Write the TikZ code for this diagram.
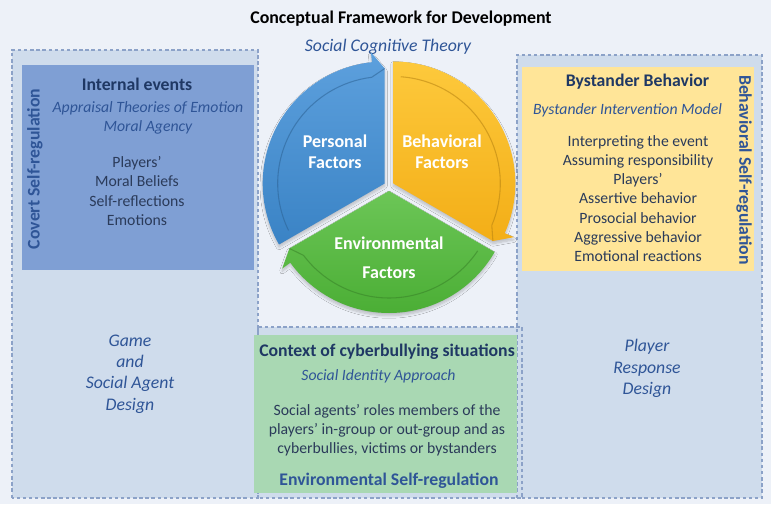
\documentclass[tikz,border=0pt]{standalone}
\usepackage{fontspec}
\setmainfont{Carlito}
\usepackage{tikz}
\usetikzlibrary{calc,positioning,shadows.blur}
\definecolor{bgpage}{HTML}{EDF1F8}
\definecolor{bgzone}{HTML}{CFDCEC}
\definecolor{zoneln}{HTML}{8CA2C8}
\definecolor{boxblue}{HTML}{7F9FD4}
\definecolor{boxyellow}{HTML}{FFE598}
\definecolor{boxgreen}{HTML}{A9D8B3}
\definecolor{headnavy}{HTML}{1F3864}
\definecolor{theoryblue}{HTML}{2F5597}
\definecolor{bodynavy}{HTML}{2B3B5A}
\definecolor{segblueA}{HTML}{5DA0DD}
\definecolor{segblueB}{HTML}{3A83C5}
\definecolor{segyelA}{HTML}{FDC93C}
\definecolor{segyelB}{HTML}{F3AE17}
\definecolor{seggrnA}{HTML}{6CC657}
\definecolor{seggrnB}{HTML}{4BAE35}
\tikzset{
  % shaded dashed zones behind the boxes
  zonefill/.style={fill=bgzone},
  zoneedge/.style={draw=zoneln, line width=0.9pt, dash pattern=on 2.6pt off 2pt},
  % texts
  titletxt/.style={font=\fontsize{13.4}{16}\selectfont\bfseries, text=black, inner sep=0pt},
  headtxt/.style={font=\fontsize{13.3}{16}\selectfont\bfseries, text=headnavy, inner sep=0pt},
  theorytxt/.style={font=\fontsize{11.8}{14.4}\selectfont\itshape, text=theoryblue, align=center, inner sep=0pt},
  bodytxt/.style={font=\fontsize{11.8}{14.4}\selectfont, text=bodynavy, align=center, inner sep=0pt},
  designtxt/.style={font=\fontsize{13.3}{16}\selectfont\itshape, text=theoryblue, align=center, inner sep=0pt},
  regtxt/.style={font=\fontsize{13.3}{16}\selectfont\bfseries, text=theoryblue, inner sep=0pt},
  segtxt/.style={font=\fontsize{13.5}{15.8}\selectfont\bfseries, text=white, align=center, inner sep=0pt},
  % cycle segments
  segment/.style={blur shadow={shadow blur steps=8, shadow opacity=22,
                 shadow xshift=0pt, shadow yshift=-2pt}},
  rimln/.style={line width=0.8pt, opacity=0.55},
}
% one segment of the cycle: centre, start angle, end angle, top colour, bottom colour
\newcommand{\cyclearrow}[5]{%
  \pgfmathsetmacro{\barbang}{#3+6}%
  \pgfmathsetmacro{\rimang}{#2-4}%
  \pgfmathsetmacro{\rimend}{#3+7}%
  \path[segment, top color=#4, bottom color=#5]
    (#1) -- ($(#1)+(#2:122)$) arc[start angle=#2, end angle=\barbang, radius=122]
    -- ($(#1)+(\barbang:132)$) -- ($(#1)+(#3:115)$) -- cycle;
  \draw[rimln, draw=#5!75!black] ($(#1)+(\rimang:107)$)
    arc[start angle=\rimang, end angle=\rimend, radius=107] -- ($(#1)+(#3:115)$);
}

\begin{document}
\begin{tikzpicture}[x=0.75pt, y=0.75pt]
  % page
  \fill[bgpage] (0,0) rectangle (771,504);
  \useasboundingbox (0,0) rectangle (771,504);
  % zones
  \fill[zonefill] (12,6) rectangle (258,454);
  \fill[zonefill] (517,6) rectangle (762,449);
  \fill[zonefill] (258,6) rectangle (522,177);
  \draw[zoneedge] (12,6) rectangle (258,454);
  \draw[zoneedge] (517,6) rectangle (762,449);
  \draw[zoneedge] (258,6) rectangle (522,177);
  % boxes
  \fill[boxblue] (22,234) rectangle (254,439);
  \fill[boxyellow] (522,233) rectangle (754,437);
  \fill[boxgreen] (254,11) rectangle (517,169);

  % title
  \node[titletxt] (title) at (401,485) {Conceptual Framework for Development};
  \node[designtxt] (sct) at (388,457) {Social Cognitive Theory};

  % cycle
  \coordinate (cBlue) at (384.7,320.5);
  \coordinate (cYel) at (393.3,320.5);
  \coordinate (cGrn) at (389,313);
  \cyclearrow{cBlue}{210}{90}{segblueA}{segblueB}
  \cyclearrow{cYel}{90}{-30}{segyelA}{segyelB}
  \cyclearrow{cGrn}{-30}{-150}{seggrnA}{seggrnB}
  \node[segtxt] (personal) at (335,352.5) {Personal\\Factors};
  \node[segtxt] (behavioral) at (442,352.5) {Behavioral\\Factors};
  \node[segtxt, font=\fontsize{13.5}{21.8}\selectfont\bfseries] (environmental) at (389,246.5) {Environmental\\Factors};

  % internal events
  \node[headtxt] (intHead) at (137,420) {Internal events};
  \node[theorytxt] (intTheory) at (148,386.5) {Appraisal Theories of Emotion\\Moral Agency};
  \node[bodytxt] (intList) at (137,313) {Players’\\Moral Beliefs\\Self-reflections\\Emotions};
  \node[regtxt, rotate=90] (covert) at (35,335) {Covert Self-regulation};

  % bystander behavior
  \node[headtxt] (bysHead) at (637.5,422) {Bystander Behavior};
  \node[theorytxt] (bysTheory) at (627.5,394) {Bystander Intervention Model};
  \node[bodytxt] (bysList) at (638,305.5) {Interpreting the event\\Assuming responsibility\\Players’\\Assertive behavior\\Prosocial behavior\\Aggressive behavior\\Emotional reactions};
  \node[regtxt, rotate=-90] (behavioralReg) at (744,334) {Behavioral Self-regulation};

  % context
  \node[headtxt] (ctxHead) at (387,152) {Context of cyberbullying situations};
  \node[theorytxt] (ctxTheory) at (378.5,128) {Social Identity Approach};
  \node[bodytxt] (ctxBody) at (387,74) {Social agents’ roles members of the\\players’ in-group or out-group and as\\cyberbullies, victims or bystanders};
  \node[regtxt] (envReg) at (389,23) {Environmental Self-regulation};

  % design labels
  \node[designtxt] (gameDesign) at (130,130) {Game\\and\\Social Agent\\Design};
  \node[designtxt] (playerDesign) at (647,135.5) {Player\\Response\\Design};
\end{tikzpicture}
\end{document}
